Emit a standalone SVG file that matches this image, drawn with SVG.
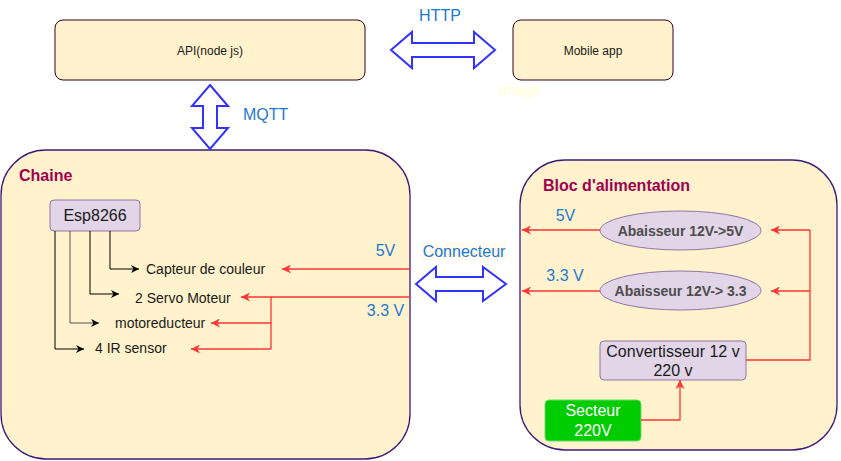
<svg xmlns="http://www.w3.org/2000/svg" width="841" height="461" viewBox="0 0 841 461">
<defs>
<marker id="ab" viewBox="0 0 10 10" refX="10" refY="5" markerWidth="9" markerHeight="8" markerUnits="userSpaceOnUse" orient="auto"><path d="M0,0 L10,5 L0,10 L3,5 z" fill="#000"/></marker>
<marker id="ar" viewBox="0 0 10 10" refX="10" refY="5" markerWidth="10" markerHeight="9" markerUnits="userSpaceOnUse" orient="auto"><path d="M0,0 L10,5 L0,10 L3,5 z" fill="#ff3333"/></marker>
<style>
text{font-family:"Liberation Sans",Arial,sans-serif}
.box{fill:#fff2cc;stroke:#33001a;stroke-width:1}
.cont{fill:#fff2cc;stroke:#3d1a78;stroke-width:1.3}
.purp{fill:#e1d5e7;stroke:#9673a6;stroke-width:1}
.big{fill:#fff;stroke:#3333ff;stroke-width:2}
.blue{fill:#1f78d1;font-size:16px}
.title{fill:#a00050;font-size:16px;font-weight:bold}
.lbl{fill:#1a1a1a;font-size:14px}
.blk{fill:none;stroke:#000;stroke-width:1;marker-end:url(#ab)}
.red{fill:none;stroke:#ff3333;stroke-width:1.3}
.redA{fill:none;stroke:#ff3333;stroke-width:1.3;marker-end:url(#ar)}
</style>
</defs>
<rect width="841" height="461" fill="#fff"/>
<g id="api"><rect class="box" x="55" y="20" width="310" height="60" rx="8"/><text x="210" y="55" text-anchor="middle" font-size="12" fill="#1a1a1a">API(node js)</text></g>
<g id="mobile"><rect class="box" x="513" y="20" width="160" height="60" rx="8"/><text x="593" y="54.5" text-anchor="middle" font-size="12" fill="#1a1a1a">Mobile app</text></g>
<g id="image-label"><text x="520" y="95" text-anchor="middle" font-size="15" fill="#ffffcc">Image</text></g>
<g id="chaine"><rect class="cont" x="1" y="150" width="409" height="309" rx="45"/><text class="title" x="19" y="181">Chaine</text></g>
<g id="bloc"><rect class="cont" x="520" y="160" width="317" height="290" rx="45"/><text class="title" x="543" y="190.5">Bloc d'alimentation</text></g>
<g id="esp"><rect class="purp" x="50" y="200" width="90" height="31" rx="4"/><text x="95" y="221" text-anchor="middle" font-size="16" fill="#1a1a1a">Esp8266</text></g>
<g id="capteur"><text class="lbl" x="146" y="273.5">Capteur de couleur</text></g>
<g id="servo"><text class="lbl" x="135" y="302.5">2 Servo Moteur</text></g>
<g id="moto"><text class="lbl" x="115" y="327.5">motoreducteur</text></g>
<g id="ir"><text class="lbl" x="95" y="353">4 IR sensor</text></g>
<g id="ab5"><ellipse cx="680.5" cy="230.5" rx="80.5" ry="19.5" fill="#e1d5e7" stroke="#9673a6"/><text x="680.5" y="236" text-anchor="middle" font-size="14" font-weight="bold" fill="#4d4d4d">Abaisseur 12V-&gt;5V</text></g>
<g id="ab33"><ellipse cx="680.5" cy="290.5" rx="80.5" ry="19.5" fill="#e1d5e7" stroke="#9673a6"/><text x="680.5" y="296" text-anchor="middle" font-size="14" font-weight="bold" fill="#4d4d4d">Abaisseur 12V-&gt; 3.3</text></g>
<g id="conv"><rect class="purp" x="600" y="341" width="146" height="39" rx="4"/><text x="673" y="356.5" text-anchor="middle" font-size="16" fill="#1a1a1a">Convertisseur 12 v</text><text x="673" y="376" text-anchor="middle" font-size="16" fill="#1a1a1a">220 v</text></g>
<g id="secteur"><rect x="545" y="400" width="96" height="41" rx="4" fill="#00cc00" stroke="#66dd66"/><text x="593" y="416" text-anchor="middle" font-size="16" fill="#fff">Secteur</text><text x="593" y="436" text-anchor="middle" font-size="16" fill="#fff">220V</text></g>
<g id="connectors">
<polygon class="big" points="391,50 412,32 412,43 474,43 474,32 495,50 474,68 474,57 412,57 412,68"/>
<polygon class="big" points="210,85 228,106 217,106 217,128 228,128 210,149 192,128 203,128 203,106 192,106"/>
<polygon class="big" points="416,284 436,267 436,277 483,277 483,267 506,284 483,301 483,291 436,291 436,301"/>
<text class="blue" x="440" y="20.5" text-anchor="middle">HTTP</text>
<text class="blue" x="243" y="119.5">MQTT</text>
<rect x="422" y="242" width="84" height="18" fill="#fffbf0"/>
<text class="blue" x="464" y="256.5" text-anchor="middle">Connecteur</text>
<path class="blk" d="M110,231 V269 H139"/>
<path class="blk" d="M90,231 V294 H119"/>
<path class="blk" d="M70,231 V323 H99" style="stroke:#555"/>
<path class="blk" d="M55,231 V349 H84"/>
<path class="redA" d="M410,269 H282"/>
<path class="redA" d="M410,297 H241"/>
<path class="red" d="M271,297 V349"/>
<path class="redA" d="M271,323 H211"/>
<path class="redA" d="M271,349 H191"/>
<text class="blue" x="385.5" y="255.5" text-anchor="middle">5V</text>
<text class="blue" x="385.5" y="315.5" text-anchor="middle">3.3 V</text>
<path class="redA" d="M600,230 H522"/>
<path class="redA" d="M600,291 H522"/>
<text class="blue" x="565.5" y="220.5" text-anchor="middle">5V</text>
<text class="blue" x="565" y="280.5" text-anchor="middle">3.3 V</text>
<path class="red" d="M746,360 H810 V230"/>
<path class="redA" d="M810,230 H771"/>
<path class="redA" d="M810,291 H771"/>
<path class="redA" d="M641,420 H680 V380"/>
</g>
</svg>
